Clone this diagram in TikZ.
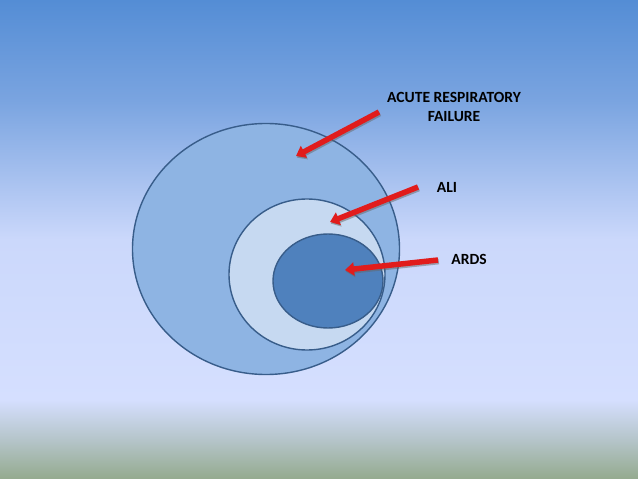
\documentclass[tikz,border=0pt]{standalone}
\usepackage{fontspec}
\setmainfont{Carlito}
\usetikzlibrary{arrows.meta,shapes.geometric,positioning}
\definecolor{skytop}{RGB}{84,141,213}
\definecolor{skymid}{RGB}{122,164,224}
\definecolor{haze}{RGB}{203,216,251}
\definecolor{hazelow}{RGB}{213,223,255}
\definecolor{grassmid}{RGB}{180,196,200}
\definecolor{grassbot}{RGB}{148,170,142}
\definecolor{outerfill}{RGB}{142,180,227}
\definecolor{middlefill}{RGB}{198,217,241}
\definecolor{innerfill}{RGB}{79,129,189}
\definecolor{zoneline}{RGB}{56,93,138}
\definecolor{pointerred}{RGB}{225,28,28}
\pgfdeclareverticalshading{skyfade}{100bp}{color(0bp)=(grassbot); color(25bp)=(grassbot); color(29bp)=(grassmid); color(33.3bp)=(hazelow); color(50bp)=(haze); color(64.5bp)=(skymid); color(75bp)=(skytop); color(100bp)=(skytop)}
\tikzset
{
    zone/.style    = {ellipse, draw=zoneline, line width=1.4bp, inner sep=0pt},
    tag/.style     = {font=\bfseries\fontsize{15.6}{19}\selectfont, align=center, text=black},
    pointer/.style = {line width=5.5bp, draw=pointerred, -{Triangle[length=9bp,width=13bp]}},
    pshadow/.style = {line width=5.5bp, draw=black!60, opacity=0.5, -{Triangle[length=9bp,width=13bp]}}
}
\begin{document}
\begin{tikzpicture}[x=1bp, y=-1bp]
	\useasboundingbox (0,0) rectangle (638,479);
	\shade[shading=skyfade] (0,0) rectangle (638,479);
	% nested zones
	\node[zone, fill=outerfill, minimum width=267bp, minimum height=251bp] (arf) at (266,249) {};
	\node[zone, fill=middlefill, minimum width=156bp, minimum height=151bp] (ali) at (307,274.5) {};
	\node[zone, fill=innerfill, minimum width=110bp, minimum height=94bp] (ards) at (328,281) {};
	% labels
	\node[tag] (arftext) at (454,107) {ACUTE RESPIRATORY\\FAILURE};
	\node[tag] (alitext) at (447,187) {ALI};
	\node[tag] (ardstext) at (469,259) {ARDS};
	% pointers
	\coordinate (arftail) at (379,112);
	\coordinate (arfhead) at (296,156);
	\coordinate (alitail) at (418,187);
	\coordinate (alihead) at (330,222);
	\coordinate (ardstail) at (438,260);
	\coordinate (ardshead) at (345,270);
	\foreach \p in {arf,ali,ards}
	{
		\draw[pshadow, transform canvas={shift={(0.8bp,-1.6bp)}}] (\p tail) -- (\p head);
		\draw[pointer] (\p tail) -- (\p head);
	}
\end{tikzpicture}
\end{document}
